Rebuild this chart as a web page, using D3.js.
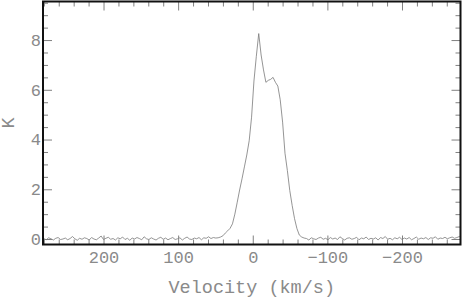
<!DOCTYPE html>
<html>
<head>
<meta charset="utf-8">
<script src="https://cdn.jsdelivr.net/npm/d3@7"></script>
<style>
  body { margin: 0; background: #fff; }
  svg { display: block; }
  .lbl text { font-family: "Liberation Mono", monospace; font-size: 17px; fill: #8a8a8a; }
  .ttl { font-family: "Liberation Mono", monospace; font-size: 18.5px; fill: #8a8a8a; }
</style>
</head>
<body>
<svg id="spec"></svg>
<script>
// SPECTRUM DATA (channels start at v0, step dv km/s)
var v0 = 280;
var dv = -3.2;
var tempK = [
  0.02, -0.03, 0.05, 0.01, -0.04, 0.03, 0.06, -0.02, 0.00, 0.04,
  -0.03, 0.02, 0.10, 0.01, -0.05, 0.03, -0.01, 0.05, 0.02, -0.04,
  0.06, 0.00, -0.03, 0.04, 0.12, -0.02, 0.03, 0.07, -0.01, 0.02,
  -0.04, 0.05, 0.01, 0.08, -0.02, 0.03, -0.05, 0.04, 0.00, 0.06,
  0.02, -0.03, 0.09, 0.01, -0.02, 0.05, 0.00, -0.04, 0.03, 0.07,
  -0.01, 0.04, -0.03, 0.02, 0.06, -0.02, 0.01, 0.05, -0.04, 0.03,
  0.08, 0.00, -0.02, 0.04, 0.01, 0.06, -0.03, 0.05, 0.03, 0.09,
  0.02, 0.06, 0.04,
  0.05, 0.08, 0.13, 0.24, 0.33, 0.43, 0.61, 1.00, 1.48, 1.97,
  2.42, 2.90, 3.38, 3.95, 4.90, 6.35, 7.35, 8.26, 7.40, 6.80,
  6.30, 6.38, 6.42, 6.50, 6.30, 6.15, 5.60, 4.70, 3.45, 2.75,
  1.95, 1.35, 0.82, 0.42, 0.16, 0.08, 0.04,
  0.02, -0.04, 0.05, 0.01, -0.02, 0.04, 0.07, -0.01, 0.03, -0.03,
  0.06, 0.00, 0.04, -0.02, 0.09, 0.02, -0.04, 0.03, 0.05, -0.01,
  0.02, 0.07, -0.03, 0.04, 0.01, 0.08, -0.02, 0.03, 0.00, 0.05,
  -0.04, 0.06, 0.02, 0.10, -0.01, 0.03, -0.03, 0.05, 0.01, 0.07,
  -0.02, 0.04, 0.00, 0.06, -0.03, 0.02, 0.08, -0.01, 0.04, 0.01,
  0.06, -0.02, 0.05, 0.03, 0.09, -0.01, 0.04, 0.02, 0.07, 0.01,
  0.05, 0.08, 0.03, 0.06, 0.10, 0.04
];

// TICKS
var xMajor = [200, 100, 0, -100, -200];
var xMinor = [280, 260, 240, 220, 180, 160, 140, 120, 80, 60, 40, 20,
              -20, -40, -60, -80, -120, -140, -160, -180, -220, -240, -260];
var yMajor = [0, 2, 4, 6, 8];
var yMinor = [0.5, 1, 1.5, 2.5, 3, 3.5, 4.5, 5, 5.5, 6.5, 7, 7.5, 8.5, 9, 9.5];
var xTitle = "Velocity (km/s)";
var yTitle = "K";

var W = 463, H = 298;
var pL = 43, pR = 460.5, pT = 1.5, pB = 244.5;

var svg = d3.select("#spec").attr("width", W).attr("height", H);

var x = d3.scaleLinear().domain([281.1, -278.4]).range([pL, pR]);
var y = d3.scaleLinear().domain([-0.22, 9.55]).range([pB, pT]);

var data = tempK.map(function(k, i) { return {v: v0 + i * dv, k: k}; });

svg.append("clipPath").attr("id", "clip")
  .append("rect").attr("x", pL).attr("y", pT)
  .attr("width", pR - pL).attr("height", pB - pT);

var line = d3.line()
  .x(function(d) { return x(d.v); })
  .y(function(d) { return y(d.k); });

svg.append("path")
  .datum(data)
  .attr("clip-path", "url(#clip)")
  .attr("fill", "none")
  .attr("stroke", "#7a7a7a")
  .attr("stroke-width", 0.8)
  .attr("d", line);

// tick axes on all four sides, pointing inward
function ticks(axis, pos, vals, size, fmt) {
  var g = svg.append("g")
    .attr("class", "lbl")
    .attr("transform", pos)
    .call(axis.tickValues(vals).tickSize(size).tickFormat(fmt).tickPadding(fmt ? 5 : 0));
  g.select(".domain").remove();
  g.selectAll("line").attr("stroke", "#808080").attr("stroke-width", 1);
  return g;
}
var noLbl = function() { return ""; };

ticks(d3.axisBottom(x), "translate(0," + pB + ")", xMinor, -5, noLbl);
ticks(d3.axisTop(x), "translate(0," + pT + ")", xMinor, -5, noLbl);
ticks(d3.axisTop(x), "translate(0," + pT + ")", xMajor, -9, noLbl);
ticks(d3.axisLeft(y), "translate(" + pL + ",0)", yMinor, -5, noLbl);
ticks(d3.axisRight(y), "translate(" + pR + ",0)", yMinor, -5, noLbl);
ticks(d3.axisRight(y), "translate(" + pR + ",0)", yMajor, -9, noLbl);

var xb = ticks(d3.axisBottom(x), "translate(0," + pB + ")", xMajor, -9, d3.format("d"));
xb.selectAll("text").attr("y", 6);
var yl = ticks(d3.axisLeft(y), "translate(" + pL + ",0)", yMajor, -9, d3.format("d"));
yl.selectAll("text").attr("x", -2);

// frame
svg.append("rect")
  .attr("x", pL).attr("y", pT)
  .attr("width", pR - pL).attr("height", pB - pT)
  .attr("fill", "none").attr("stroke", "#111").attr("stroke-width", 2);

svg.append("text")
  .attr("class", "ttl")
  .attr("x", (pL + pR) / 2).attr("y", 293)
  .attr("text-anchor", "middle")
  .text(xTitle);

svg.append("text")
  .attr("class", "ttl")
  .attr("transform", "translate(14," + ((pT + pB) / 2) + ") rotate(-90)")
  .attr("text-anchor", "middle")
  .text(yTitle);
</script>
</body>
</html>
